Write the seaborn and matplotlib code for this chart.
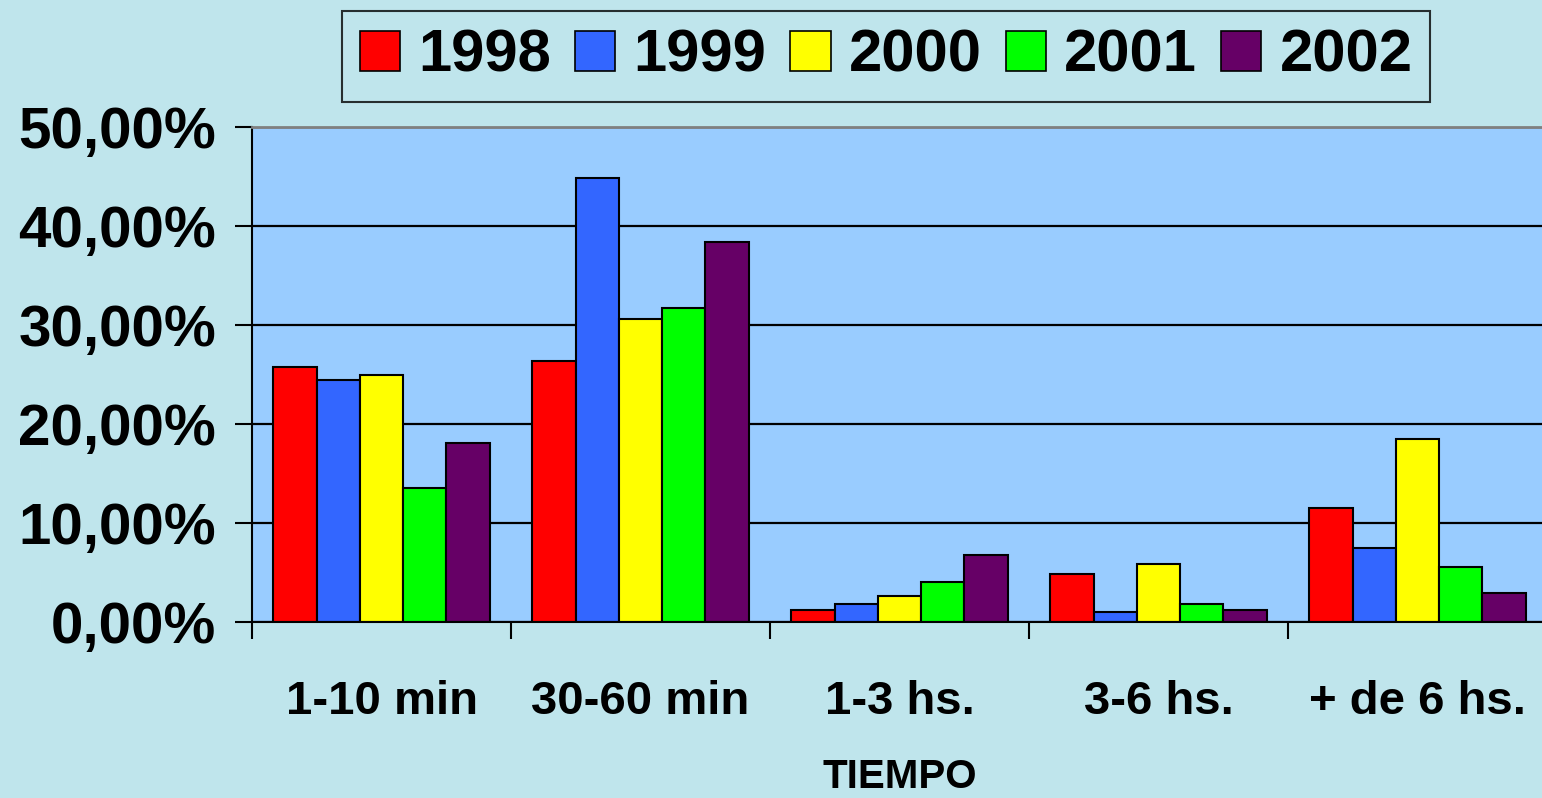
import matplotlib
matplotlib.use("Agg")
import matplotlib.pyplot as plt
import matplotlib.patches as mpatches
import numpy as np
import pandas as pd
import seaborn as sns

# Share of cases by elapsed time, per year
categories = ["1-10 min", "30-60 min", "1-3 hs.", "3-6 hs.", "+ de 6 hs."]
years = ["1998", "1999", "2000", "2001", "2002"]
values_1998 = [25.8, 26.4, 1.2, 4.8, 11.5]
values_1999 = [24.4, 44.8, 1.8, 1.0, 7.5]
values_2000 = [25.0, 30.6, 2.65, 5.9, 18.5]
values_2001 = [13.5, 31.7, 4.0, 1.8, 5.6]
values_2002 = [18.1, 38.4, 6.8, 1.2, 2.9]
y_ticks = [0, 10, 20, 30, 40, 50]
y_tick_labels = ["0,00%", "10,00%", "20,00%", "30,00%", "40,00%", "50,00%"]
x_title = "TIEMPO"

colors = ["#FF0000", "#3366FF", "#FFFF00", "#00FF00", "#660066"]

series = [values_1998, values_1999, values_2000, values_2001, values_2002]
df = pd.DataFrame(
    [(cat, yr, v) for yr, vals in zip(years, series) for cat, v in zip(categories, vals)],
    columns=["tiempo", "anio", "pct"],
)

sns.set_style("white")
plt.rcParams["font.family"] = ["Liberation Sans", "DejaVu Sans"]
plt.rcParams["font.weight"] = "bold"
plt.rcParams["text.color"] = "black"
plt.rcParams["xtick.color"] = "black"
plt.rcParams["ytick.color"] = "black"
plt.rcParams["axes.labelcolor"] = "black"

W, H = 1542, 798
fig = plt.figure(figsize=(W / 100, H / 100), dpi=100, facecolor="#bfe5ec")
ax = fig.add_axes([252 / W, (H - 622) / H, 1295 / W, 495 / H])
ax.set_facecolor("#99CCFF")

sns.barplot(
    data=df, x="tiempo", y="pct", hue="anio",
    order=categories, hue_order=years, palette=colors,
    width=0.834, edgecolor="black", linewidth=1.5,
    saturation=1, ax=ax, legend=False,
)

ax.set_xlim(-0.5, len(categories) - 0.5)
ax.set_ylim(0, 50)
ax.set_axisbelow(True)
ax.yaxis.grid(True, color="black", linewidth=1.6)
ax.xaxis.grid(False)

ax.set_yticks(y_ticks)
ax.set_yticklabels(y_tick_labels, fontsize=42, fontweight="bold", color="black")
ax.tick_params(axis="y", direction="out", length=12, width=1.5, color="black",
               pad=14, left=True)

ax.set_xticks(range(len(categories)))
ax.set_xticklabels(categories, fontsize=34, fontweight="bold", color="black")
ax.tick_params(axis="x", which="major", length=0, pad=42)
ax.set_xticks(np.arange(-0.5, len(categories) + 0.5, 1.0), minor=True)
ax.tick_params(axis="x", which="minor", direction="out", length=12, width=1.5,
               color="black", bottom=True)

ax.set_xlabel(x_title, fontsize=29, fontweight="bold", labelpad=24, color="black")
ax.set_ylabel("")

for side in ["left", "bottom"]:
    ax.spines[side].set_color("black")
    ax.spines[side].set_linewidth(1.5)
ax.spines["top"].set_color("#808080")
ax.spines["top"].set_linewidth(2)
ax.spines["right"].set_visible(False)

handles = [mpatches.Patch(facecolor=c, edgecolor="black", linewidth=1.2, label=y)
           for c, y in zip(colors, years)]
leg = fig.legend(
    handles=handles, loc="center", bbox_to_anchor=(886 / W, 1 - 56.5 / H),
    ncol=5, prop={"weight": "bold", "size": 43},
    frameon=True, fancybox=False, edgecolor="black", facecolor="none",
    handlelength=0.68, handleheight=0.67, handletextpad=0.3,
    columnspacing=0.4, borderpad=0.3, borderaxespad=0,
)
leg.get_frame().set_linewidth(1.5)
for t in leg.get_texts():
    t.set_color("black")

fig.savefig("out.png", dpi=100, facecolor=fig.get_facecolor())
